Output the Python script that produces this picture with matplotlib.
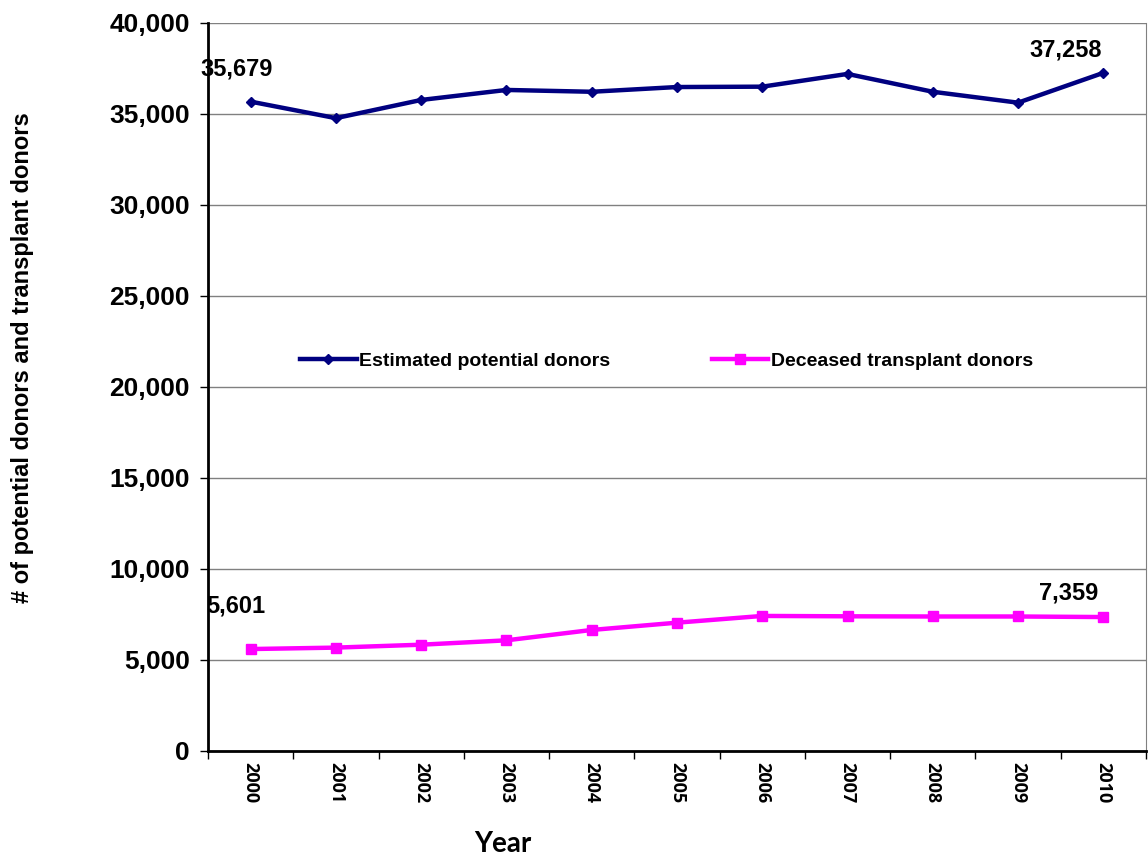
import numpy as np
import matplotlib.pyplot as plt
from matplotlib.ticker import FuncFormatter, FixedLocator

years = ["2000", "2001", "2002", "2003", "2004", "2005",
         "2006", "2007", "2008", "2009", "2010"]
potential = [35679, 34770, 35770, 36320, 36220, 36480,
             36500, 37200, 36220, 35620, 37258]
deceased = [5601, 5680, 5840, 6080, 6650, 7050,
            7420, 7400, 7390, 7390, 7359]

plt.rcParams['font.family'] = ['Liberation Sans', 'DejaVu Sans']

fig = plt.figure(figsize=(11.48, 8.57), dpi=100)
ax = fig.add_axes([0.1812, 0.1237, 0.817, 0.8495])

x = np.arange(len(years))
ax.plot(x, potential, color='#000080', lw=3.2, marker='D', ms=5,
        label='Estimated potential donors')
ax.plot(x, deceased, color='#FF00FF', lw=3.2, marker='s', ms=7,
        label='Deceased transplant donors')

ax.set_xlim(-0.5, len(years) - 0.5)
ax.set_ylim(0, 40000)
ax.set_yticks(np.arange(0, 40001, 5000))
ax.yaxis.set_major_formatter(FuncFormatter(lambda v, p: f"{int(v):,}"))
ax.grid(axis='y', color='#808080', lw=1)
ax.set_axisbelow(True)

# year labels at the centres, tick marks on the category edges
ax.set_xticks(x)
ax.set_xticklabels(years, rotation=-90, fontsize=13, fontweight='bold',
                   family='Open Sans')
ax.tick_params(axis='x', which='major', length=0, pad=8)
ax.xaxis.set_minor_locator(FixedLocator(np.arange(-0.5, len(years), 1)))
ax.tick_params(axis='x', which='minor', length=6, width=1, direction='out')
ax.tick_params(axis='y', length=6, width=1, labelsize=19, pad=7)
for lab in ax.get_yticklabels():
    lab.set_fontweight('bold')

for side in ['left', 'bottom']:
    ax.spines[side].set_linewidth(2)
    ax.spines[side].set_color('black')
ax.spines['right'].set_color('#808080')
ax.spines['top'].set_visible(False)

ax.set_xlabel('Year', family='Lato', fontsize=20, fontweight='bold',
              va='center')
ax.xaxis.set_label_coords(0.3145, -0.128)
ax.set_ylabel('# of potential donors and transplant donors', fontsize=17,
              fontweight='bold', va='center')
ax.yaxis.set_label_coords(-0.198, 0.541)

# value labels at the first and last year
value_labels = [
    (x[0], potential[0], (-14, 33)),
    (x[-1], potential[-1], (-38, 23)),
    (x[0], deceased[0], (-15, 43)),
    (x[-1], deceased[-1], (-35, 24)),
]
for xi, yi, off in value_labels:
    ax.annotate(f"{yi:,}", (xi, yi), xytext=off, textcoords='offset pixels',
                ha='center', va='center', fontsize=17, fontweight='bold')

leg = ax.legend(loc='center', bbox_to_anchor=(0.489, 0.536), ncol=2,
                frameon=False, handlelength=2.9, handletextpad=0.15,
                columnspacing=5.2, prop={'weight': 'bold', 'size': 14})

fig.savefig('out.png', dpi=100)
